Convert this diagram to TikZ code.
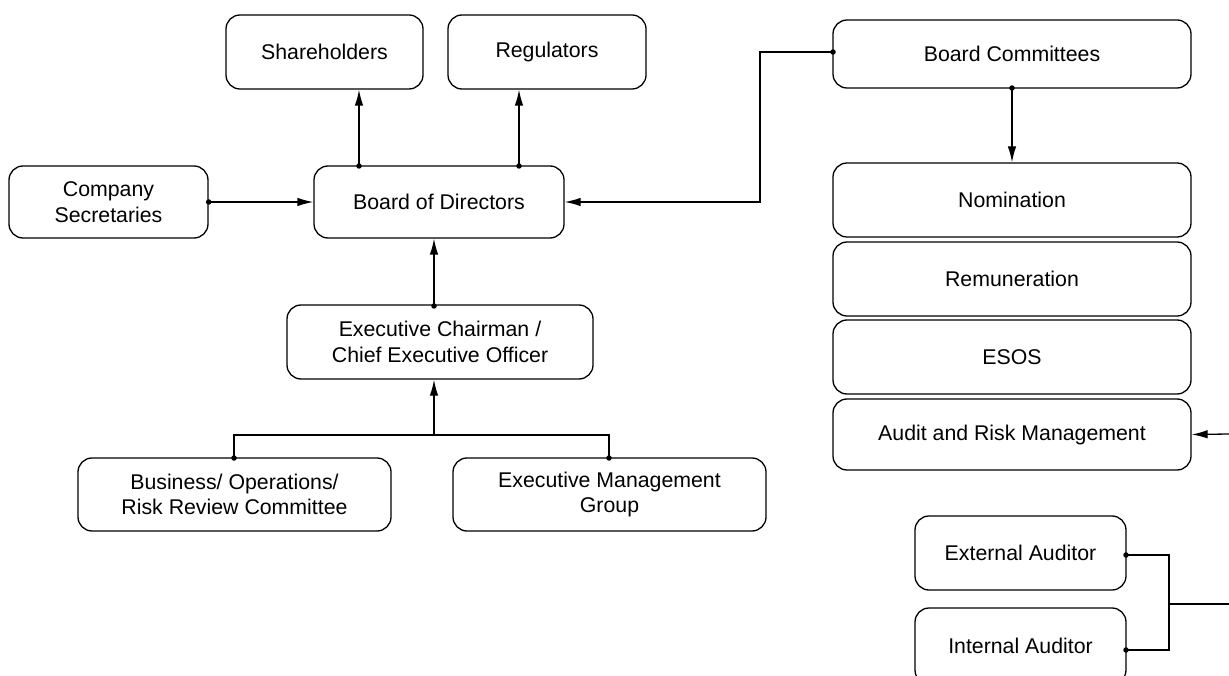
\documentclass[tikz,border=0pt]{standalone}
\usepackage{fontspec}
\setmainfont{Liberation Sans}
\usetikzlibrary{arrows.meta}
\begin{document}
\begin{tikzpicture}[x=1pt,y=-1pt,
  box/.style={draw,line width=1.3pt,rounded corners=14pt,inner sep=0pt,align=center,font=\fontsize{21.3}{25.5}\selectfont},
  conn/.style={line width=1.3pt},
  arr/.style={line width=1.3pt,-{Latex[length=16pt,width=8.5pt]}},
  dot/.style={circle,fill,inner sep=0pt,minimum size=5.5pt}]
\useasboundingbox (0,0) rectangle (1229,676);
\node[box,minimum width=197pt,minimum height=74pt] (sh) at (324.5,52) {Shareholders};
\node[box,minimum width=198pt,minimum height=74pt] (reg) at (547,52) {Regulators};
\node[box,minimum width=358pt,minimum height=68pt] (bc) at (1012,54) {Board Committees};
\node[box,minimum width=199pt,minimum height=72pt] (cs) at (108.5,202) {Company\\Secretaries};
\node[box,minimum width=250pt,minimum height=72pt] (bod) at (439,202) {Board of Directors};
\node[box,minimum width=306pt,minimum height=74pt] (ec) at (440,342) {Executive Chairman /\\Chief Executive Officer};
\node[box,minimum width=313pt,minimum height=73pt] (bus) at (234.5,494.5) {Business/ Operations/\\Risk Review Committee};
\node[box,minimum width=313pt,minimum height=73pt] (emg) at (609.5,494.5) {Executive Management\\Group};
\node[box,minimum width=358pt,minimum height=74pt] (nom) at (1012,200) {Nomination};
\node[box,minimum width=358pt,minimum height=74pt] (rem) at (1012,279) {Remuneration};
\node[box,minimum width=358pt,minimum height=74pt] (esos) at (1012,357) {ESOS};
\node[box,minimum width=358pt,minimum height=71pt] (arm) at (1012,434.5) {Audit and Risk Management};
\node[box,minimum width=211pt,minimum height=74pt] (ext) at (1020.5,553) {External Auditor};
\node[box,minimum width=211pt,minimum height=76pt] (int) at (1020.5,646) {Internal Auditor};
% coordinates
\coordinate (bodsh) at (359,166);
\coordinate (bodreg) at (519,166);
\coordinate (bcl) at (833,52);
\coordinate (bcb) at (1012,88);
\coordinate (ect) at (434,306);
\coordinate (bust) at (234,458);
\coordinate (emgt) at (609,458);
\coordinate (exto) at (1126,555);
\coordinate (into) at (1126,650);
\coordinate (armin) at (1229,434);
\coordinate (audout) at (1229,604);
% connectors
\draw[arr] (bodsh) -- (bodsh |- sh.south);
\draw[arr] (bodreg) -- (bodreg |- reg.south);
\draw[arr] (cs.east) -- (bod.west);
\draw[arr] (bcl) -- (760,52) -- (760,202) -- (bod.east);
\draw[arr] (bcb) -- (nom.north);
\draw[arr] (ect) -- (ect |- bod.south);
\draw[conn] (bust) -- (234,435) -- (609,435) -- (emgt);
\draw[arr] (434,435) -- (434,435 |- ec.south);
\draw[arr] (armin) -- (arm.east);
\draw[conn] (exto) -- (1169,555) -- (1169,650) -- (into);
\draw[conn] (1169,604) -- (audout);
% dots
\foreach \p in {bodsh,bodreg,cs.east,bcl,bcb,ect,bust,emgt,exto,into}
  \node[dot] at (\p) {};
\end{tikzpicture}
\end{document}
